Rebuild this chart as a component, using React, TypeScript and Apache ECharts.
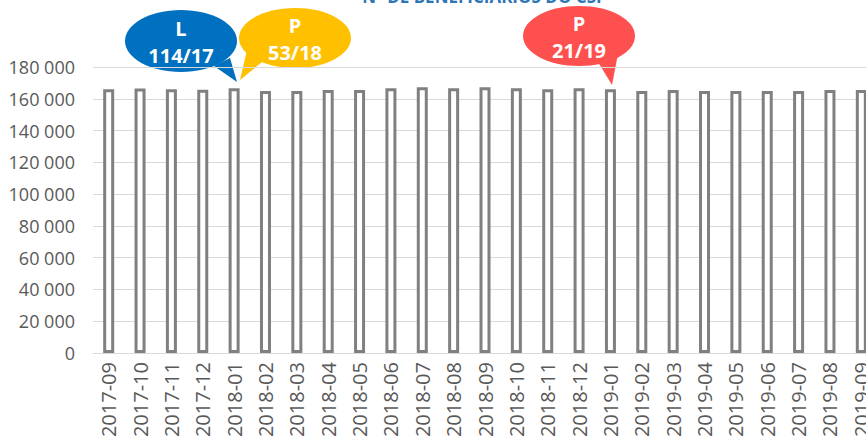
import React, { useEffect, useRef } from "react";
import * as echarts from "echarts";

const months = [
  "2017-09", "2017-10", "2017-11", "2017-12", "2018-01", "2018-02", "2018-03",
  "2018-04", "2018-05", "2018-06", "2018-07", "2018-08", "2018-09", "2018-10",
  "2018-11", "2018-12", "2019-01", "2019-02", "2019-03", "2019-04", "2019-05",
  "2019-06", "2019-07", "2019-08", "2019-09",
];

const beneficiaries = [
  166000, 166500, 166000, 165700, 166700, 164900, 164900,
  165500, 165500, 166700, 167300, 166700, 167300, 166700,
  166000, 166700, 166000, 164900, 165500, 164900, 164900,
  164900, 164900, 165500, 165500,
];

const yTicks = { min: 0, max: 180000, interval: 20000 };

const titleText = "Nº DE BENEFICIÁRIOS DO CSI";

const callouts = [
  { top: "L", bottom: "114/17", color: "#0070C0" },
  { top: "P", bottom: "53/18", color: "#FFC000" },
  { top: "P", bottom: "21/19", color: "#FF5050" },
];

const FONT = "'Open Sans', 'Liberation Sans', sans-serif";

function bubble(
  cx: number, cy: number, rx: number, ry: number,
  tail: number[][], color: string, t1: string, t2: string
) {
  return {
    type: "group",
    children: [
      { type: "polygon", shape: { points: tail }, style: { fill: color } },
      { type: "ellipse", shape: { cx, cy, rx, ry }, style: { fill: color } },
      {
        type: "text", x: cx, y: cy - 13,
        style: { text: t1, fill: "#fff", font: `bold 20px ${FONT}`, align: "center", verticalAlign: "middle" },
      },
      {
        type: "text", x: cx, y: cy + 14,
        style: { text: t2, fill: "#fff", font: `bold 20px ${FONT}`, align: "center", verticalAlign: "middle" },
      },
    ],
  };
}

export default function App() {
  const ref = useRef<HTMLDivElement>(null);
  useEffect(() => {
    if (!ref.current) return;
    const chart = echarts.init(ref.current, null, { renderer: "svg" });
    chart.setOption({
      animation: false,
      grid: { left: 93, right: 5, top: 67, bottom: 92, containLabel: false },
      xAxis: {
        type: "category",
        data: months,
        axisLine: { show: true, lineStyle: { color: "#d9d9d9", width: 1 } },
        axisTick: { show: false },
        axisLabel: {
          rotate: 90, margin: 9, color: "#595959", fontSize: 20, fontFamily: FONT,
          interval: 0,
        },
      },
      yAxis: {
        type: "value",
        min: yTicks.min, max: yTicks.max, interval: yTicks.interval,
        axisLine: { show: false },
        axisTick: { show: false },
        splitLine: { lineStyle: { color: "#d9d9d9", width: 1 } },
        axisLabel: {
          margin: 18, color: "#595959", fontSize: 18, fontFamily: FONT,
          formatter: (v: number) => v.toLocaleString("en-US").replace(/,/g, " "),
        },
      },
      series: [
        {
          type: "bar",
          data: beneficiaries,
          barWidth: 11,
          itemStyle: { color: "#ffffff", borderColor: "#808080", borderWidth: 3 },
        },
      ],
      graphic: [
        {
          type: "text", x: 482, y: 5,
          style: {
            text: titleText, fill: "#2E75B6", font: `bold 17px ${FONT}`,
            align: "center", verticalAlign: "bottom",
          },
        },
        bubble(181, 41, 56, 31, [[214, 66], [230, 58], [237, 82]], callouts[0].color, callouts[0].top, callouts[0].bottom),
        bubble(295, 38, 56, 30, [[247, 50], [262, 62], [240, 80]], callouts[1].color, callouts[1].top, callouts[1].bottom),
        bubble(579, 36, 56, 30, [[598, 62], [618, 54], [612, 85]], callouts[2].color, callouts[2].top, callouts[2].bottom),
      ],
    });
    return () => chart.dispose();
  }, []);
  return (
    <div style={{ position: "fixed", left: 0, top: 0, width: 866, height: 445, overflow: "hidden", background: "#fff" }}>
      <div ref={ref} style={{ width: 882, height: 445 }} />
    </div>
  );
}
